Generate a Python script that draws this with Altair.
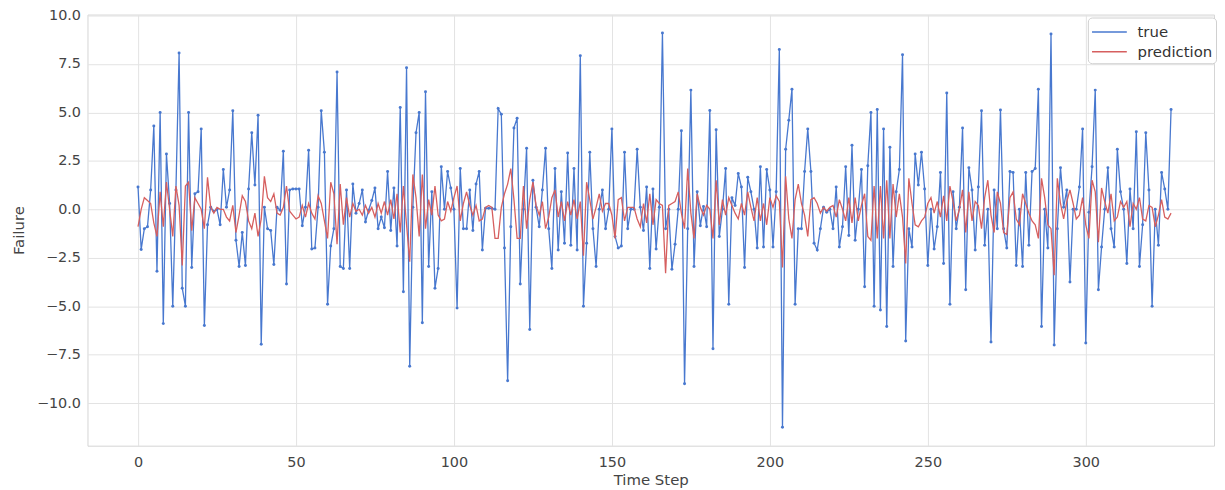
import altair as alt
import pandas as pd

true_vals = [
    1.15, -2.07, -1.0, -0.9, 1.0, 4.3, -3.2, 5.0, -5.9, 2.85,
    0.3, -5.0, 1.0, 8.07, -4.07, -5.0, 5.0, -3.0, 0.8, 0.9,
    4.15, -6.0, -0.8, 0.1, -0.1, 0.0, -0.8, 2.05, 0.1, 1.0,
    5.08, -1.6, -2.95, -1.2, -2.9, 1.05, 3.95, 1.25, 4.85, -6.97,
    0.1, -1.0, -1.1, -2.85, 0.1, -0.05, 3.0, -3.85, 1.0, 1.05,
    1.05, 1.05, -0.85, 0.1, 3.05, -2.05, -2.0, 0.1, 5.08, 2.95,
    -4.9, -1.9, -1.0, 7.08, -2.95, -3.05, 1.0, -3.05, 1.3, -0.2,
    0.3, 1.0, -0.65, -0.05, 0.45, 1.1, -1.0, -0.4, -0.95, 1.95,
    -1.1, 1.1, -1.9, 5.25, -4.25, 7.3, -8.1, 0.1, 3.95, 5.0,
    -5.85, 6.07, -2.95, 0.9, -4.07, -3.05, 2.2, 0.0, 1.95, 1.1,
    0.0, -5.1, 2.1, -1.0, -1.0, 1.0, -1.1, 1.3, 1.95, -2.1,
    0.05, 0.05, 0.05, 0.0, 5.2, 4.9, -2.0, -8.85, -0.9, 4.2,
    4.7, -3.85, 0.0, 3.15, -6.2, 1.5, 0.1, -0.9, 1.0, 3.15,
    -1.0, -3.05, 2.1, -2.1, 0.9, -1.75, 2.9, -1.85, 2.1, -2.1,
    7.93, -5.0, -1.75, 2.95, -1.0, -2.95, 0.0, 1.0, -1.0, 0.0,
    4.15, -1.4, -2.0, -1.9, 2.95, -1.0, 0.0, 0.0, 3.1, 0.1,
    -1.1, 1.15, -3.05, 1.05, -2.05, 0.1, 9.1, -1.0, 0.0, -3.1,
    -1.8, 0.0, 4.05, -9.0, -1.0, 6.15, -2.95, 0.9, -0.85, 0.15,
    -0.9, 5.1, -7.2, 4.1, -1.4, 0.0, 2.1, -4.9, 0.6, 0.2,
    1.85, 1.15, -3.0, 1.65, 0.9, 0.0, -2.0, 2.2, -1.95, 2.05,
    1.0, -1.95, 0.9, 8.25, -11.25, 3.1, 4.6, 6.2, -4.9, -1.0,
    -1.0, 1.95, 4.15, 1.95, -1.75, -2.1, -1.0, 0.1, -0.15, 0.0,
    -1.0, 1.15, -1.95, -0.9, 2.2, -1.35, 3.3, -1.6, 0.0, 2.05,
    -4.0, 2.25, 5.0, -5.0, 5.15, -5.2, 4.15, -6.05, 3.2, -2.95,
    0.9, 2.05, 7.98, -6.8, -1.0, -1.95, 2.85, 1.25, 2.95, 1.05,
    -2.9, 0.0, -2.05, -0.9, 1.9, -2.8, 6.0, -4.9, 0.9, -1.0,
    0.1, 4.2, -4.15, 2.15, 1.0, -2.1, 1.15, 5.08, -1.85, 0.0,
    -6.85, 1.0, -1.0, 5.13, -1.0, -2.0, 1.95, 1.9, -2.9, 0.0,
    -2.95, 1.9, -1.85, 1.95, 2.1, 6.2, -6.05, 0.0, -2.0, 9.05,
    -7.0, -1.0, 2.15, 0.1, 1.0, -3.75, 0.0, 0.0, 1.15, 4.15,
    -6.9, -0.15, 2.2, 6.15, -4.15, -1.95, 0.0, 2.15, -1.0, -1.95,
    3.1, 0.9, 0.0, -2.8, 1.05, -1.0, 4.0, -2.95, -0.8, 3.95,
    1.0, -5.0, 0.0, -1.85, 1.9, 1.05, 0.0, 5.15,
]

pred_vals = [
    -0.9, 0.0, 0.6, 0.45, 0.3, -0.7, -1.4, 0.9, -0.9, 1.4,
    0.0, -1.4, 1.2, 0.2, -2.9, 1.2, 1.4, -1.1, 0.6, 0.3,
    0.0, -1.0, 1.65, 0.1, -0.2, 0.1, 0.0, 0.0, -0.4, -0.6,
    0.2, -1.2, -0.3, 0.7, 0.4, -0.6, -1.0, -0.2, -1.4, -0.5,
    1.7, 0.6, 0.4, 0.8, -0.2, -0.3, 0.1, 1.2, -0.1, -0.3,
    -0.5, -0.4, 0.2, -0.4, 0.3, -0.2, -0.5, 0.7, 0.3, -0.6,
    -1.5, 1.4, 0.8, -1.8, 1.3, -0.8, 0.6, -0.4, 0.3, -0.1,
    0.0, -0.3, 0.2, -0.2, 0.1, -0.4, 0.3, -0.2, 0.4, -0.3,
    0.5, -0.5, 0.8, -1.2, 1.2, -0.8, -2.7, 1.8, 0.6, -1.4,
    1.8, -1.0, 0.5, -0.3, 1.2, -0.3, -0.6, -0.5, 0.4, -0.1,
    0.6, 1.2, -0.6, 0.3, 0.9, 0.2, -0.3, 0.2, -0.6, -0.5,
    0.1, 0.2, 0.1, -1.5, -1.5, 0.1, 0.8, 1.3, 2.1, 0.5,
    -1.5, -1.5, 1.2, -1.0, 0.5, 1.4, 0.2, -0.3, 0.4, -1.0,
    -0.4, 0.6, 1.0, -0.4, 0.4, -0.6, 0.4, -0.3, 0.5, -0.5,
    0.4, -2.4, 1.4, 0.5, -0.5, 0.1, 0.8, -0.1, 0.3, 0.3,
    -0.3, -1.5, 0.5, 0.6, -0.6, 0.1, 0.1, 0.1, -0.5, -0.9,
    0.3, -0.7, 0.8, -0.8, 0.5, 0.3, 0.2, -3.3, 0.2, 0.3,
    0.4, 0.9, -0.2, -1.0, 2.1, -0.2, -1.5, 0.8, 0.1, -0.3,
    0.2, 0.0, -1.5, 1.5, -0.8, 0.5, -0.3, 0.6, 0.2, -0.2,
    -0.5, 0.3, -0.3, 0.9, 0.1, -0.6, 0.6, -0.6, 0.3, -0.8,
    0.6, 0.1, 0.7, 0.4, -3.0, 1.7, -0.5, -1.5, 0.5, 1.3,
    0.3, -0.3, -1.4, 0.5, 0.6, 0.3, -0.2, 0.1, -0.1, 0.1,
    0.2, -0.4, 0.5, 0.0, -0.6, 0.6, -0.7, 0.6, -0.6, 0.2,
    0.8, -1.4, -1.6, 1.2, -1.5, 1.2, -1.5, 1.5, -1.5, 1.3,
    -0.4, 0.8, -0.4, -2.8, 1.6, 0.3, -0.8, -0.9, -0.6, -0.4,
    0.3, 0.6, -0.2, 0.4, -0.4, 0.7, -0.6, 1.2, 0.4, -0.6,
    0.0, 1.0, -1.2, 0.9, -0.6, 0.4, 0.2, -1.0, 0.6, 1.5,
    -0.3, -1.2, 0.9, 0.3, -1.2, -1.3, 0.6, 0.9, -0.5, -0.8,
    0.8, 0.3, -0.2, -0.6, -0.8, -1.5, 1.6, 0.6, -0.8, -1.0,
    -3.4, 1.6, 0.3, -0.5, 0.4, 1.0, 0.3, -0.5, -0.3, 0.6,
    -0.8, -1.5, 1.5, 0.9, -1.7, 1.1, 0.4, -0.2, 0.8, -0.6,
    -0.4, 0.4, 0.1, 0.4, -0.9, 0.3, 0.0, 0.6, -0.5, -0.6,
    0.2, 0.1, -0.9, -0.3, 0.5, -0.4, -0.5, -0.2,
]

steps = list(range(len(true_vals)))
series_names = ["true", "prediction"]
series_colors = ["#4878CF", "#D65F5F"]
x_ticks = [0, 50, 100, 150, 200, 250, 300]
y_ticks = [-10, -7.5, -5, -2.5, 0, 2.5, 5, 7.5, 10]

df = pd.DataFrame({
    "step": steps * 2,
    "value": true_vals + pred_vals,
    "series": ["true"] * len(true_vals) + ["prediction"] * len(pred_vals),
})

FONT = "DejaVu Sans"
TXT = "#444444"

x_enc = alt.X("step:Q",
              scale=alt.Scale(domain=[-16, 340.6], nice=False, zero=False),
              axis=alt.Axis(values=x_ticks, title="Time Step", labelPadding=10,
                            titlePadding=4, format="d"))
y_enc = alt.Y("value:Q",
              scale=alt.Scale(domain=[-12.2, 10.05], nice=False, zero=False),
              axis=alt.Axis(values=y_ticks, title="Failure", format=".1f",
                            labelPadding=7, titlePadding=10))
color_enc = alt.Color("series:N",
                      scale=alt.Scale(domain=series_names, range=series_colors),
                      sort=series_names,
                      legend=alt.Legend(title=None, orient="none", legendX=1007, legendY=3,
                                        direction="vertical", fillColor="white",
                                        strokeColor="#d0d0d0", padding=3, cornerRadius=4,
                                        labelFontSize=15, labelColor="#333333", labelFont=FONT,
                                        symbolType="M-1,0H2.4", symbolStrokeWidth=1.5,
                                        symbolSize=424, rowPadding=-1, labelOffset=24))

base = alt.Chart(df)
true_line = base.transform_filter(alt.datum.series == "true").mark_line(
    strokeWidth=1.3).encode(x=x_enc, y=y_enc, color=color_enc)
true_pts = base.transform_filter(alt.datum.series == "true").mark_point(
    filled=True, size=9, opacity=1, color=series_colors[0]).encode(x=x_enc, y=y_enc)
pred_line = base.transform_filter(alt.datum.series == "prediction").mark_line(
    strokeWidth=1.3).encode(x=x_enc, y=y_enc, color=color_enc)

chart = alt.layer(true_line, true_pts, pred_line).properties(
    width=1134, height=434,
    autosize=alt.AutoSizeParams(type="none"),
    padding={"left": 80, "top": 5, "right": 3, "bottom": 43},
).configure_view(
    stroke="#d5d5d5", strokeWidth=1
).configure_axis(
    grid=True, gridColor="#e3e3e3", gridWidth=1, domain=False, ticks=False,
    labelFont=FONT, labelFontSize=14.5, labelColor=TXT,
    titleFont=FONT, titleFontSize=15, titleFontWeight="normal", titleColor=TXT,
)

chart.save("out.html", embed_options={"renderer": "svg", "actions": False})
